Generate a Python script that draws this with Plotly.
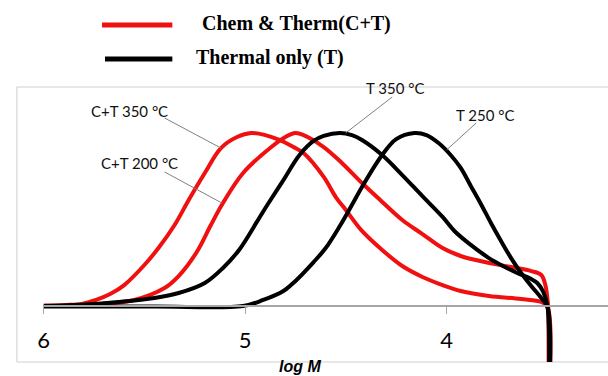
import plotly.graph_objects as go

# ---- data (log M vs normalised detector response) ----
ct350_logm = [6.00, 5.89, 5.81, 5.74, 5.67, 5.60, 5.50, 5.43, 5.35, 5.28, 5.20, 5.12, 5.04, 4.97,
              4.90, 4.83, 4.76, 4.71, 4.61, 4.55, 4.50, 4.42, 4.32, 4.22, 4.12, 4.02, 3.93, 3.79,
              3.63, 3.53, 3.499, 3.496]
ct350_resp = [0.003, 0.006, 0.012, 0.035, 0.069, 0.121, 0.237, 0.335, 0.468, 0.613, 0.769, 0.913,
              0.977, 1.000, 0.988, 0.960, 0.919, 0.884, 0.746, 0.630, 0.555, 0.434, 0.324, 0.231,
              0.168, 0.121, 0.087, 0.058, 0.040, 0.023, -0.006, -0.6]

ct200_logm = [6.00, 5.84, 5.71, 5.55, 5.40, 5.33, 5.24, 5.17, 5.11, 5.01, 4.87, 4.80, 4.75, 4.71,
              4.61, 4.52, 4.42, 4.33, 4.22, 4.12, 4.02, 3.93, 3.81, 3.68, 3.58, 3.53, 3.51, 3.499,
              3.496, 3.494]
ct200_resp = [0.000, 0.003, 0.012, 0.035, 0.104, 0.173, 0.312, 0.468, 0.595, 0.769, 0.919, 0.977,
              1.000, 0.988, 0.919, 0.827, 0.711, 0.613, 0.497, 0.416, 0.335, 0.289, 0.254, 0.225,
              0.202, 0.179, 0.121, 0.035, -0.006, -0.6]

t350_logm = [6.00, 5.79, 5.63, 5.45, 5.33, 5.20, 5.11, 5.03, 4.93, 4.89, 4.81, 4.73, 4.66, 4.61,
             4.53, 4.47, 4.42, 4.32, 4.22, 4.12, 4.02, 3.96, 3.88, 3.79, 3.73, 3.65, 3.58, 3.55,
             3.52, 3.499, 3.494]
t350_resp = [0.000, 0.009, 0.023, 0.046, 0.075, 0.133, 0.220, 0.324, 0.509, 0.584, 0.728, 0.873,
             0.954, 0.983, 1.000, 0.988, 0.960, 0.873, 0.757, 0.635, 0.515, 0.432, 0.353, 0.277,
             0.237, 0.191, 0.156, 0.133, 0.081, -0.006, -0.6]

t250_logm = [6.00, 5.45, 5.01, 4.91, 4.81, 4.75, 4.66, 4.60, 4.53, 4.47, 4.42, 4.32, 4.25, 4.16,
             4.10, 4.04, 3.98, 3.93, 3.88, 3.83, 3.78, 3.73, 3.68, 3.63, 3.58, 3.53, 3.499, 3.494]
t250_resp = [-0.003, -0.003, 0.000, 0.035, 0.087, 0.145, 0.254, 0.335, 0.462, 0.584, 0.688, 0.873,
             0.965, 1.000, 0.988, 0.942, 0.873, 0.798, 0.694, 0.590, 0.480, 0.376, 0.277, 0.191,
             0.116, 0.046, -0.006, -0.6]

tick_vals = [6, 5, 4]
tick_text = ["6", "5", "4"]

RED = "#f01010"
BLACK = "#000000"

fig = go.Figure()
for xs, ys, col in [(ct350_logm, ct350_resp, RED), (ct200_logm, ct200_resp, RED),
                    (t350_logm, t350_resp, BLACK), (t250_logm, t250_resp, BLACK)]:
    fig.add_trace(go.Scatter(x=xs, y=ys, mode="lines",
                             line=dict(color=col, width=4, shape="spline", smoothing=1.0),
                             showlegend=False, hoverinfo="skip"))

W, H = 608, 376
def px(x):
    return x / W
def py(y):
    return 1 - y / H

shapes = []
# outer frame
shapes.append(dict(type="rect", xref="paper", yref="paper", x0=px(11), x1=px(612), y0=py(362), y1=py(87),
                   line=dict(color="#cfcfcf", width=1), layer="below"))
# legend lines
shapes.append(dict(type="line", xref="paper", yref="paper", x0=px(97), x1=px(168), y0=py(25), y1=py(25),
                   line=dict(color=RED, width=5)))
shapes.append(dict(type="line", xref="paper", yref="paper", x0=px(100), x1=px(168), y0=py(59), y1=py(59),
                   line=dict(color=BLACK, width=5)))
# leader lines for curve labels
leaders = [((5.400, 1.087), (5.120, 0.913)),
           ((5.400, 0.775), (5.115, 0.595)),
           ((4.270, 1.208), (4.501, 1.000)),
           ((3.853, 1.058), (4.000, 0.902))]
for (x0, y0), (x1, y1) in leaders:
    shapes.append(dict(type="line", xref="x", yref="y", x0=x0, y0=y0, x1=x1, y1=y1,
                       line=dict(color="#808080", width=1)))

annotations = []
lab_font = dict(family="Lato, Open Sans, sans-serif", size=15, color="#111111")
for txt, x, y in [("C+T 350 °C", 5.572, 1.127), ("C+T 200 °C", 5.523, 0.827),
                  ("T 350 °C", 4.256, 1.260), ("T 250 °C", 3.808, 1.104)]:
    annotations.append(dict(text=txt, x=x, y=y, xref="x", yref="y", showarrow=False,
                            font=lab_font, xanchor="center", yanchor="middle"))

leg_font = dict(family="Liberation Serif, Times New Roman, serif", size=20, color="#000000")
annotations.append(dict(text="<b>Chem &amp; Therm(C+T)</b>", x=px(196), y=py(23), xref="paper", yref="paper",
                        showarrow=False, xanchor="left", yanchor="middle", font=leg_font))
annotations.append(dict(text="<b>Thermal only (T)</b>", x=px(190), y=py(57), xref="paper", yref="paper",
                        showarrow=False, xanchor="left", yanchor="middle", font=leg_font))
annotations.append(dict(text="<b><i>log M</i></b>", x=px(297), y=py(366), xref="paper", yref="paper",
                        showarrow=False, xanchor="center", yanchor="middle",
                        font=dict(family="Liberation Sans, Arial, sans-serif", size=16, color="#000000")))

y_bottom = (306 - 362) / 173
y_top = (306 - 87) / 173
x_right = 6 - (608 - 38) / 203.5

fig.update_layout(
    width=W, height=H,
    margin=dict(l=0, r=0, t=0, b=0),
    paper_bgcolor="white", plot_bgcolor="white",
    xaxis=dict(domain=[px(38), 1], range=[6, x_right], anchor="free", position=py(306),
               showline=True, linecolor="#a6a6a6", linewidth=2,
               ticks="outside", ticklen=7, tickcolor="#a6a6a6", tickwidth=1,
               tickvals=tick_vals, ticktext=tick_text, ticklabelstandoff=8,
               tickfont=dict(family="Lato, Open Sans, sans-serif", size=22, color="#000000"),
               showgrid=False, zeroline=False),
    yaxis=dict(domain=[py(362), py(87)], range=[y_bottom, y_top], visible=False,
               showgrid=False, zeroline=False),
    shapes=shapes, annotations=annotations,
)

fig.write_html("out.html", config={"displayModeBar": False},
               post_script="document.body.style.margin='0';document.body.style.overflow='hidden';")
